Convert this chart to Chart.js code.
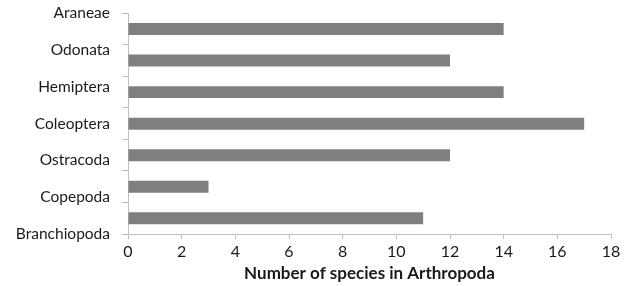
<!DOCTYPE html>
<html>
<head>
<meta charset="utf-8">
<script src="https://cdn.jsdelivr.net/npm/chart.js@4.4.1/dist/chart.umd.min.js"></script>
<style>
  html, body { margin: 0; padding: 0; background: #fff; }
  #wrap { width: 624px; height: 286px; }
</style>
</head>
<body>
<div id="wrap"><canvas id="speciesChart"></canvas></div>
<script>
const categories = ['Araneae', 'Odonata', 'Hemiptera', 'Coleoptera', 'Ostracoda', 'Copepoda', 'Branchiopoda'];
const speciesCounts = [14, 12, 14, 17, 12, 3, 11];
const axisTitle = 'Number of species in Arthropoda';
const xMax = 18;
const xStep = 2;

const axisGray = '#bfbfbf';
const textColor = '#1a1a1a';

document.addEventListener('DOMContentLoaded', () => {
    const canvas = document.getElementById('speciesChart');
    new Chart(canvas.getContext('2d'), {
        type: 'bar',
        data: {
            labels: categories,
            datasets: [{
                data: speciesCounts,
                backgroundColor: '#7f7f7f',
                borderWidth: 0,
                barPercentage: 0.38,
                categoryPercentage: 1.0
            }]
        },
        options: {
            indexAxis: 'y',
            responsive: true,
            maintainAspectRatio: false,
            animation: false,
            layout: { padding: { top: 13, right: 13, left: 0, bottom: 0 } },
            plugins: {
                legend: { display: false },
                tooltip: { enabled: false }
            },
            scales: {
                x: {
                    min: 0,
                    max: xMax,
                    ticks: { stepSize: xStep, color: textColor, font: { family: 'Lato', size: 16 }, padding: 3 },
                    grid: { drawOnChartArea: false, color: axisGray, tickLength: 5 },
                    border: { color: axisGray },
                    title: {
                        display: true,
                        text: axisTitle,
                        color: textColor,
                        font: { family: 'Lato', size: 17, weight: 'bold' },
                        padding: { top: 2, bottom: 2 }
                    },
                    afterFit: (scale) => { scale.height = 52; }
                },
                y: {
                    weight: 0,
                    ticks: { display: false },
                    grid: { offset: true, drawOnChartArea: false, color: axisGray, tickLength: 6 },
                    border: { color: axisGray },
                    afterFit: (scale) => { scale.width = 6; }
                },
                yl: {
                    type: 'linear',
                    position: 'left',
                    weight: 1,
                    offset: false,
                    min: 0,
                    max: categories.length - 1,
                    reverse: true,
                    ticks: {
                        stepSize: 1,
                        color: textColor,
                        font: { family: 'Lato', size: 15.5 },
                        padding: 4,
                        callback: (v) => categories[v]
                    },
                    grid: { display: false },
                    border: { display: false },
                    afterFit: (scale) => { scale.width = 122; }
                }
            }
        }
    });
});
</script>
</body>
</html>
